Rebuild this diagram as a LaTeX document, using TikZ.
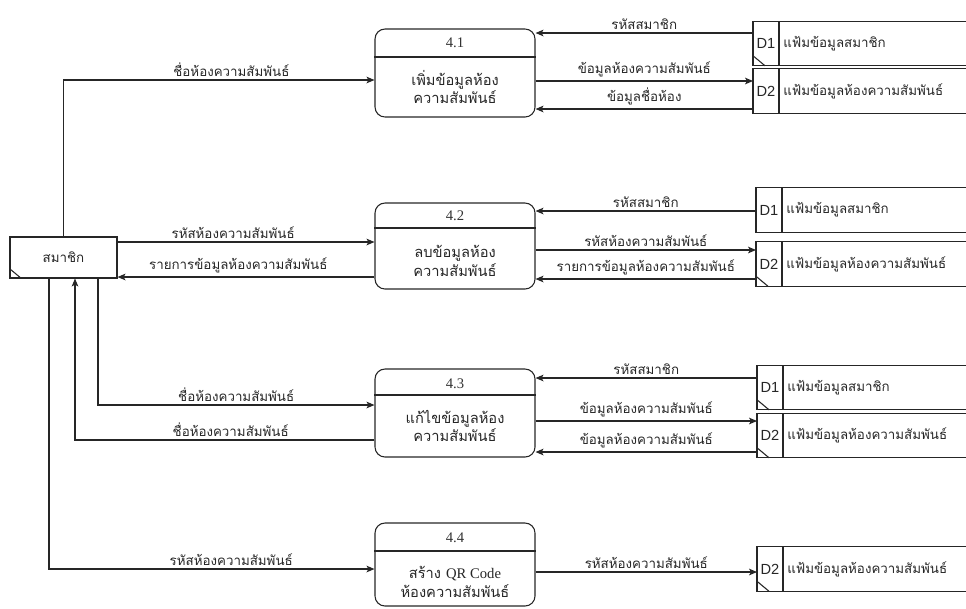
\documentclass[tikz,border=0pt]{standalone}
\usepackage{fontspec}
\setmainfont{Liberation Serif}
\newfontfamily\thaifont[Script=Thai]{Loma}
\newfontfamily\idfont{Liberation Sans}
\usetikzlibrary{arrows.meta}

% data store: open-ended box with an id cell on the left
\newcommand{\dstore}[5]{%
  \node[storebox, anchor=west, minimum width={(966-#2)*0.75pt}] (#1) at (#2,#3) {};
  \draw[line] (#1.north east) -- (#1.north west) -- (#1.south west) -- (#1.south east);
  \draw[line] ([xshift=19.5pt]#1.north west) -- ([xshift=19.5pt]#1.south west);
  \node[sid] (#1-id) at ([xshift=9.75pt]#1.west) {#4};
  \node[stxt, anchor=west] (#1-txt) at ([xshift=22.5pt]#1.west) {#5};
}
% small diagonal tick in the lower-left corner
\newcommand{\cornertick}[1]{%
  \draw[line] ([yshift=7.5pt]#1.south west) -- ([xshift=9pt]#1.south west);
}

\begin{document}
\begin{tikzpicture}[x=0.75pt,y=-0.75pt,
  line/.style={draw=black!85, line width=0.8pt},
  flow/.style={line, -{Stealth[length=6pt,width=5pt,inset=1.5pt]}},
  procbox/.style={line, rounded corners=7.5pt, minimum width=120pt, inner sep=0pt},
  ptitle/.style={font=\fontsize{11}{12}\selectfont, text=black!80, inner sep=0pt},
  pbody/.style={font=\thaifont\fontsize{11}{14}\selectfont, text=black!85, align=center, inner sep=0pt},
  storebox/.style={draw=none, minimum height=33pt, inner sep=0pt},
  sid/.style={font=\idfont\fontsize{11}{12}\selectfont, text=black!85, inner sep=0pt},
  stxt/.style={font=\thaifont\fontsize{10}{12}\selectfont, text=black!85, inner sep=0pt},
  entbox/.style={line, minimum width=80.25pt, minimum height=30.75pt, inner sep=0pt,
    font=\thaifont\fontsize{10}{12}\selectfont, text=black!85},
  lbl/.style={font=\thaifont\fontsize{10}{12}\selectfont, text=black!85, inner sep=2.5pt, above}
]
\useasboundingbox (0,0) rectangle (966,608);

% external entity
\node[entbox] (ent) at (63.5,257.5) {สมาชิก};
\cornertick{ent}

% processes
\node[procbox, minimum height=66pt] (p1) at (455,73) {};
\draw[line] (p1.west |- 0,57) -- (p1.east |- 0,57);
\node[ptitle] (p1-num) at (455,43) {4.1};
\node[pbody] (p1-txt) at (455,87) {เพิ่มข้อมูลห้อง\\ความสัมพันธ์};

\node[procbox, minimum height=64.5pt] (p2) at (455,246) {};
\draw[line] (p2.west |- 0,228) -- (p2.east |- 0,228);
\node[ptitle] (p2-num) at (455,216) {4.2};
\node[pbody] (p2-txt) at (455,261) {ลบข้อมูลห้อง\\ความสัมพันธ์};

\node[procbox, minimum height=66pt] (p3) at (455,413) {};
\draw[line] (p3.west |- 0,395) -- (p3.east |- 0,395);
\node[ptitle] (p3-num) at (455,384) {4.3};
\node[pbody] (p3-txt) at (455,426) {แก้ไขข้อมูลห้อง\\ความสัมพันธ์};

\node[procbox, minimum height=62.25pt] (p4) at (455,564.5) {};
\draw[line] (p4.west |- 0,551) -- (p4.east |- 0,551);
\node[ptitle] (p4-num) at (455,538) {4.4};
\node[pbody] (p4-txt) at (455,582) {สร้าง {\rmfamily QR Code}\\ห้องความสัมพันธ์};

% data stores
\dstore{s1a}{753}{43.5}{D1}{แฟ้มข้อมูลสมาชิก}
\cornertick{s1a}
\dstore{s1b}{753}{91}{D2}{แฟ้มข้อมูลห้องความสัมพันธ์}

\dstore{s2a}{756}{210}{D1}{แฟ้มข้อมูลสมาชิก}
\dstore{s2b}{756}{264}{D2}{แฟ้มข้อมูลห้องความสัมพันธ์}
\cornertick{s2b}

\dstore{s3a}{757}{387.5}{D1}{แฟ้มข้อมูลสมาชิก}
\cornertick{s3a}
\dstore{s3b}{757}{435.5}{D2}{แฟ้มข้อมูลห้องความสัมพันธ์}
\cornertick{s3b}

\dstore{s4b}{757}{569}{D2}{แฟ้มข้อมูลห้องความสัมพันธ์}
\cornertick{s4b}

% flows between the member and the processes
\draw[flow] (ent.north) |- node[lbl, pos=0.77] (f1) {ชื่อห้องความสัมพันธ์} (p1.west |- 0,80);
\draw[flow] (ent.east |- 0,242) -- node[lbl, pos=0.45] (f2) {รหัสห้องความสัมพันธ์} (p2.west |- 0,242);
\draw[flow] (p2.west |- 0,277) -- node[lbl, pos=0.53] (f3) {รายการข้อมูลห้องความสัมพันธ์} (ent.east |- 0,277);
\draw[flow] (ent.south -| 98,0) |- node[lbl, pos=0.75] (f4) {ชื่อห้องความสัมพันธ์} (p3.west |- 0,405);
\draw[flow] (p3.west |- 0,440) -| node[lbl, pos=0.24] (f5) {ชื่อห้องความสัมพันธ์} (ent.south -| 75,0);
\draw[flow] (ent.south -| 49,0) |- node[lbl, pos=0.78] (f6) {รหัสห้องความสัมพันธ์} (p4.west |- 0,569);

% flows between the processes and the stores
\draw[flow] (s1a.west |- 0,33) -- node[lbl] (g1) {รหัสสมาชิก} (p1.east |- 0,33);
\draw[flow] (p1.east |- 0,81) -- node[lbl] (g2) {ข้อมูลห้องความสัมพันธ์} (s1b.west |- 0,81);
\draw[flow] (s1b.west |- 0,109) -- node[lbl] (g3) {ข้อมูลชื่อห้อง} (p1.east |- 0,109);

\draw[flow] (s2a.west |- 0,211) -- node[lbl] (g4) {รหัสสมาชิก} (p2.east |- 0,211);
\draw[flow] (p2.east |- 0,250) -- node[lbl] (g5) {รหัสห้องความสัมพันธ์} (s2b.west |- 0,250);
\draw[flow] (s2b.west |- 0,279) -- node[lbl] (g6) {รายการข้อมูลห้องความสัมพันธ์} (p2.east |- 0,279);

\draw[flow] (s3a.west |- 0,378) -- node[lbl] (g7) {รหัสสมาชิก} (p3.east |- 0,378);
\draw[flow] (p3.east |- 0,421) -- node[lbl] (g8) {ข้อมูลห้องความสัมพันธ์} (s3b.west |- 0,421);
\draw[flow] (s3b.west |- 0,452) -- node[lbl] (g9) {ข้อมูลห้องความสัมพันธ์} (p3.east |- 0,452);

\draw[flow] (p4.east |- 0,572) -- node[lbl] (g10) {รหัสห้องความสัมพันธ์} (s4b.west |- 0,572);
\end{tikzpicture}
\end{document}
